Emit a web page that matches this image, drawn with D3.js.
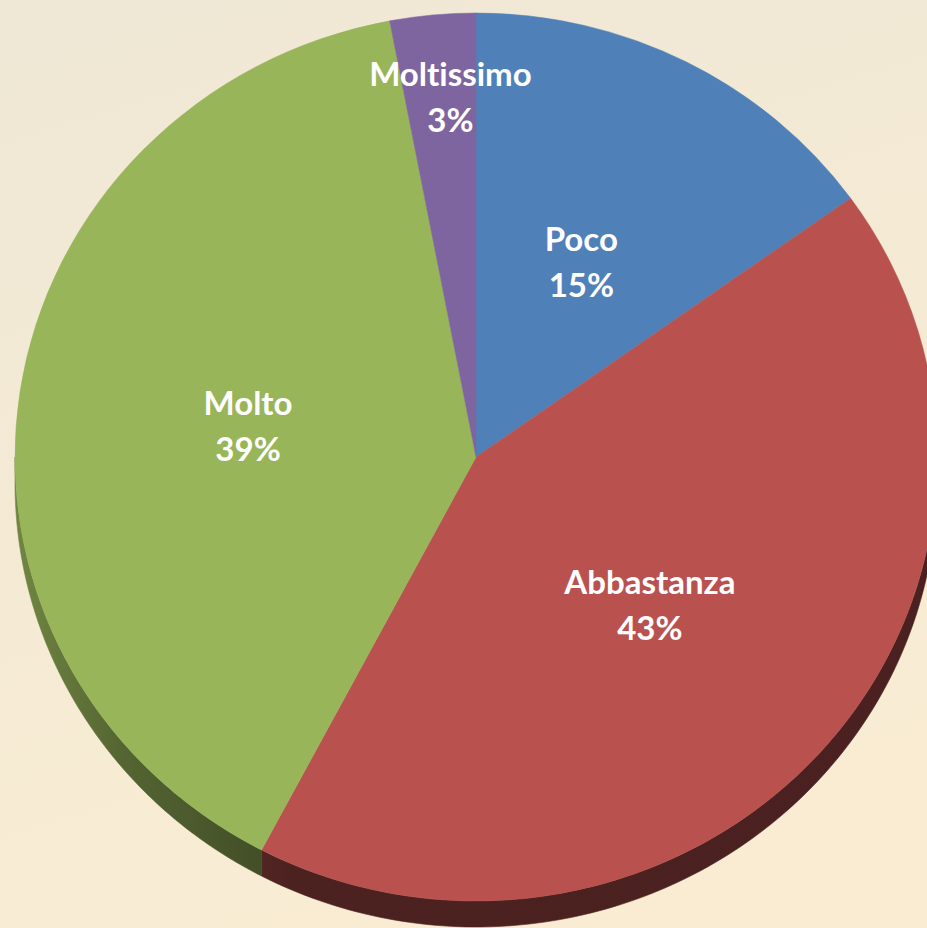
<!DOCTYPE html>
<html>
<head>
<meta charset="utf-8">
<script src="https://cdn.jsdelivr.net/npm/d3@7"></script>
<style>
  html, body { margin: 0; padding: 0; background: #f3ead6; }
  svg { display: block; }
  text { font-variant-ligatures: none; font-feature-settings: "liga" 0, "clig" 0; }
</style>
</head>
<body>
<div id="chart"></div>
<script>
var categories = ["Poco", "Abbastanza", "Molto", "Moltissimo"];
var values = [15.1, 42.6, 39.3, 3.0];
var labels = ["15%", "43%", "39%", "3%"];
var colors = ["#5080b8", "#b9524f", "#99b55a", "#7f65a0"];

var w = 927, h = 928;
var cx = 476, cy = 457;
var rx = 461, ry = 444;
var depth = 26;
var k = ry / rx;

var svg = d3.select("#chart").append("svg")
    .attr("width", w)
    .attr("height", h);

var defs = svg.append("defs");

var bg = defs.append("linearGradient")
    .attr("id", "bg")
    .attr("x1", 0).attr("y1", 0).attr("x2", 0.3).attr("y2", 1);
bg.append("stop").attr("offset", "0%").attr("stop-color", "#efe8d6");
bg.append("stop").attr("offset", "100%").attr("stop-color", "#f9ecd3");

svg.append("rect")
    .attr("width", w)
    .attr("height", h)
    .attr("fill", "url(#bg)");

var pie = d3.pie()
    .sort(null)
    .value(function (d) { return d; });

var arcs = pie(values);

var arc = d3.arc()
    .innerRadius(0)
    .outerRadius(rx);

// side shading, lighter on the left
arcs.forEach(function (d, i) {
  var base = d3.rgb(colors[i]);
  var g = defs.append("linearGradient")
      .attr("id", "side" + i)
      .attr("gradientUnits", "userSpaceOnUse")
      .attr("x1", cx - rx).attr("y1", 0)
      .attr("x2", cx + rx).attr("y2", 0);
  [[0, 0.74], [0.12, 0.55], [0.3, 0.41], [1, 0.4]].forEach(function (s) {
    var c = d3.rgb(base.r * s[1], base.g * s[1], base.b * s[1]);
    g.append("stop").attr("offset", s[0]).attr("stop-color", c.formatHex());
  });
});

// side wall of each slice (only the lower half is visible)
function sidePath(d) {
  var a0 = Math.max(d.startAngle, Math.PI / 2);
  var a1 = Math.min(d.endAngle, Math.PI * 3 / 2);
  if (a1 <= a0) return null;
  var steps = d3.range(0, 121).map(function (j) { return a0 + (a1 - a0) * j / 120; });
  var top = steps.map(function (a) { return [cx + rx * Math.sin(a), cy - ry * Math.cos(a)]; });
  var bottom = steps.slice().reverse().map(function (a) { return [cx + rx * Math.sin(a), cy - ry * Math.cos(a) + depth]; });
  return d3.line()(top.concat(bottom)) + "Z";
}

svg.append("g")
    .selectAll("path")
    .data(arcs)
    .enter()
    .append("path")
    .attr("d", sidePath)
    .attr("fill", function (d, i) { return "url(#side" + i + ")"; })
    .attr("stroke", function (d, i) { return "url(#side" + i + ")"; })
    .attr("stroke-width", 0.6);

svg.append("g")
    .attr("transform", "translate(" + cx + "," + cy + ") scale(1," + k + ")")
    .selectAll("path")
    .data(arcs)
    .enter()
    .append("path")
    .attr("d", arc)
    .attr("fill", function (d, i) { return colors[i]; })
    .attr("stroke", function (d, i) { return colors[i]; })
    .attr("stroke-width", 0.5);

// labels: small slices pushed outward
var labelArc = d3.arc().innerRadius(rx * 0.5).outerRadius(rx * 0.5);
var outerLabelArc = d3.arc().innerRadius(rx * 0.82).outerRadius(rx * 0.82);

var lab = svg.append("g")
    .selectAll("text")
    .data(arcs)
    .enter()
    .append("text")
    .attr("transform", function (d) {
      var c = (d.data < 5 ? outerLabelArc : labelArc).centroid(d);
      return "translate(" + (cx + c[0] + (d.data < 5 ? 10 : 0)) + "," + (cy + c[1] * k + 2) + ")";
    })
    .attr("text-anchor", "middle")
    .attr("fill", "#ffffff")
    .style("font-family", "Lato, 'Noto Sans', sans-serif")
    .style("font-weight", "bold")
    .style("font-size", "33px");

lab.append("tspan")
    .attr("x", 0)
    .attr("y", -11)
    .text(function (d, i) { return categories[i]; });

lab.append("tspan")
    .attr("x", 0)
    .attr("y", 35)
    .text(function (d, i) { return labels[i]; });
</script>
</body>
</html>
